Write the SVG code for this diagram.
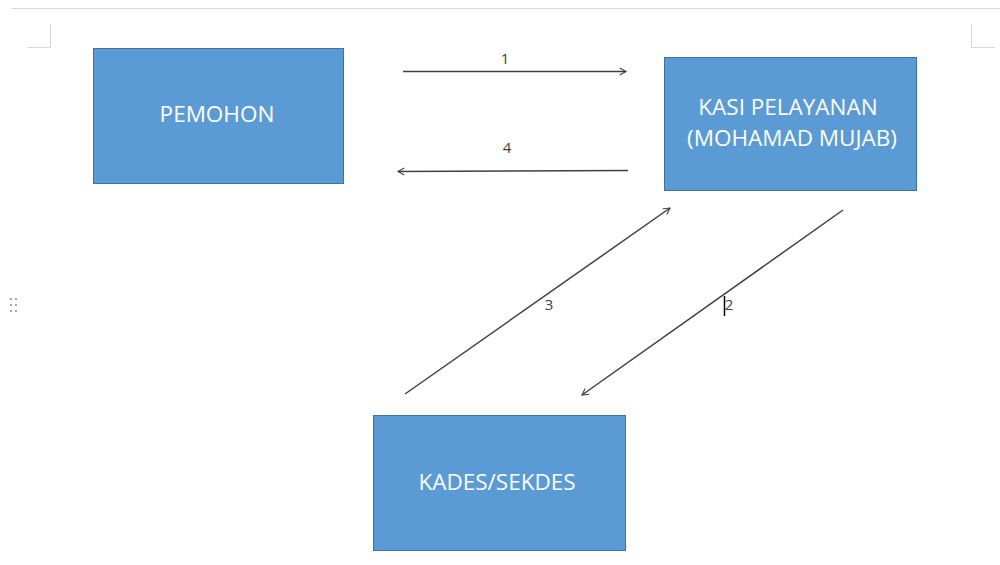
<svg xmlns="http://www.w3.org/2000/svg" width="1000" height="565" viewBox="0 0 1000 565">
<style>
.box{fill:#5B9BD5;stroke:#41719C;stroke-width:1}
.lbl{font-family:"Open Sans","Liberation Sans",sans-serif;font-size:22.5px;fill:#ffffff;text-anchor:middle}
.num{font-family:"Open Sans","Liberation Sans",sans-serif;font-size:15px;fill:#404040;text-anchor:middle}
.conn{stroke:#404040;stroke-width:1.5;fill:none;marker-end:url(#arr)}
.page{stroke:#d9d9d9;stroke-width:1;fill:none}
</style>
<defs>
<marker id="arr" viewBox="0 0 10 10" refX="9" refY="5" markerWidth="7" markerHeight="7" markerUnits="userSpaceOnUse" orient="auto" overflow="visible">
<path d="M0,0 L9,5 L0,10" fill="none" stroke="#404040" stroke-width="1.5"/>
</marker>
</defs>
<rect width="1000" height="565" fill="#ffffff"/>
<g id="page">
<line class="page" x1="11" y1="8.5" x2="1000" y2="8.5" stroke="#ececec"/>
<polyline class="page" points="50.5,24 50.5,47.5 27,47.5"/>
<polyline class="page" points="971.5,24 971.5,47.5 995,47.5"/>
<g fill="#a6a6a6">
<rect x="10" y="298" width="2" height="2"/><rect x="15" y="298" width="2" height="2"/>
<rect x="10" y="304" width="2" height="2"/><rect x="15" y="304" width="2" height="2"/>
<rect x="10" y="310" width="2" height="2"/><rect x="15" y="310" width="2" height="2"/>
</g>
</g>
<g id="pemohon">
<rect class="box" x="93.5" y="48.5" width="250" height="135"/>
<text class="lbl" x="217" y="122">PEMOHON</text>
</g>
<g id="kasi">
<rect class="box" x="664.5" y="57.5" width="252" height="133"/>
<text class="lbl" x="788" y="115">KASI PELAYANAN</text>
<text class="lbl" x="792" y="146">(MOHAMAD MUJAB)</text>
</g>
<g id="kades">
<rect class="box" x="373.5" y="415.5" width="252" height="135"/>
<text class="lbl" x="497" y="490">KADES/SEKDES</text>
</g>
<g id="connectors">
<line class="conn" x1="403" y1="71.5" x2="626" y2="71.5"/>
<text class="num" x="505" y="64">1</text>
<line class="conn" x1="628" y1="170.5" x2="398" y2="171.5"/>
<text class="num" x="507" y="153">4</text>
<line class="conn" x1="405" y1="394" x2="670" y2="208"/>
<text class="num" x="549" y="310">3</text>
<line class="conn" x1="843" y1="210" x2="582" y2="395"/>
<text class="num" x="729" y="310">2</text>
<line x1="724.5" y1="296" x2="724.5" y2="316" stroke="#000000" stroke-width="1.5"/>
</g>
</svg>
